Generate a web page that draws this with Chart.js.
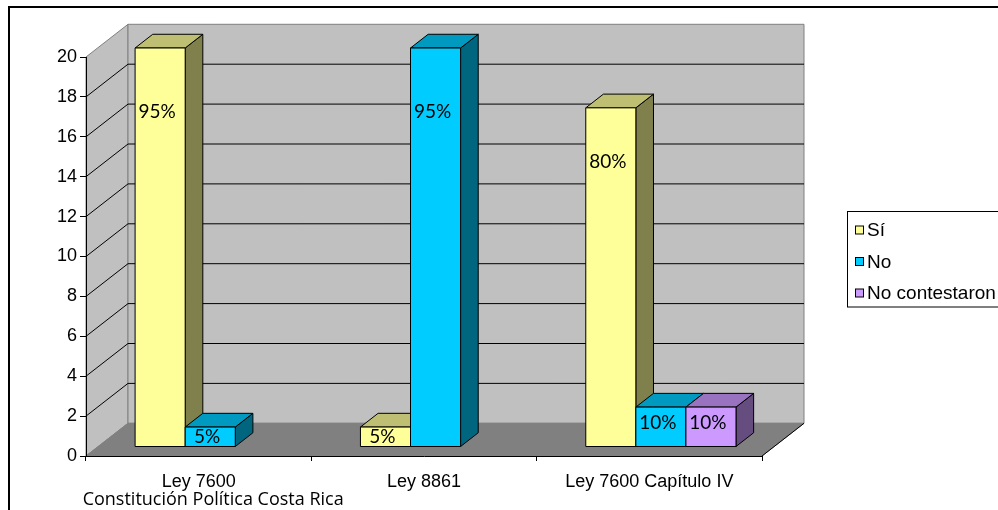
<!DOCTYPE html>
<html lang="es">
<head>
<meta charset="utf-8">
<title>Leyes - respuestas</title>
<script src="https://cdn.jsdelivr.net/npm/chart.js@4.4.1/dist/chart.umd.min.js"></script>
<style>
  html, body { margin: 0; padding: 0; background: #fff; overflow: hidden; }
  canvas { display: block; }
</style>
</head>
<body>
<canvas id="grafico" width="998" height="510"></canvas>
<script>
// Datos del gráfico
const categorias = ['Ley 7600', 'Ley 8861', 'Ley 7600 Capítulo IV'];
const subtituloPrimera = 'Constitución Política Costa Rica';
const series = ['Sí', 'No', 'No contestaron'];
const valoresSi = [20, 1, 17];
const valoresNo = [1, 20, 2];
const valoresNoContestaron = [null, null, 2];
const etiquetasSi = ['95%', '5%', '80%'];
const etiquetasNo = ['5%', '95%', '10%'];
const etiquetasNoContestaron = [null, null, '10%'];
const ejeYMin = 0, ejeYMax = 20, ejeYPaso = 2;

// Colores: frente, arriba, lado
const colores = [
    { frente: '#FFFF99', arriba: '#BFBF73', lado: '#80804D' },
    { frente: '#00CCFF', arriba: '#0099BF', lado: '#006680' },
    { frente: '#CC99FF', arriba: '#9973BF', lado: '#664D80' }
];
const etiquetas = [etiquetasSi, etiquetasNo, etiquetasNoContestaron];

// Profundidad 3D
const PROF_X = 42, PROF_Y = -32.7;
const T_FRENTE = 0.275, T_FONDO = 0.695;

function poligono(ctx, puntos, relleno, borde) {
    ctx.beginPath();
    puntos.forEach((p, i) => i ? ctx.lineTo(p[0], p[1]) : ctx.moveTo(p[0], p[1]));
    ctx.closePath();
    if (relleno) { ctx.fillStyle = relleno; ctx.fill(); }
    if (borde) { ctx.strokeStyle = borde; ctx.stroke(); }
}

// Paredes, piso y líneas de división
const fondo3d = {
    id: 'fondo3d',
    beforeDraw(chart) {
        const ctx = chart.ctx;
        const { left: L, right: R, top: T, bottom: B } = chart.chartArea;
        const y = chart.scales.y;
        ctx.save();
        ctx.fillStyle = '#fff';
        ctx.fillRect(0, 0, chart.width, chart.height);
        ctx.strokeStyle = '#000';
        ctx.lineWidth = 2;
        ctx.strokeRect(9, 7, chart.width + 20, chart.height + 20);

        ctx.lineWidth = 1;
        // pared lateral
        poligono(ctx, [[L, T], [L + PROF_X, T + PROF_Y], [L + PROF_X, B + PROF_Y], [L, B]], '#C0C0C0', '#808080');
        // pared del fondo
        poligono(ctx, [[L + PROF_X, T + PROF_Y], [R + PROF_X, T + PROF_Y], [R + PROF_X, B + PROF_Y], [L + PROF_X, B + PROF_Y]], '#C0C0C0', '#808080');
        // piso
        poligono(ctx, [[L, B], [R, B], [R + PROF_X, B + PROF_Y], [L + PROF_X, B + PROF_Y]], '#808080', '#808080');
        ctx.strokeStyle = '#000';
        ctx.beginPath();
        ctx.moveTo(R, B);
        ctx.lineTo(R + PROF_X, B + PROF_Y);
        ctx.stroke();

        // líneas de división
        ctx.strokeStyle = '#000';
        y.ticks.forEach(t => {
            if (t.value <= y.min || t.value >= y.max) return;
            const py = y.getPixelForValue(t.value);
            ctx.beginPath();
            ctx.moveTo(L, py);
            ctx.lineTo(L + PROF_X, py + PROF_Y);
            ctx.lineTo(R + PROF_X, py + PROF_Y);
            ctx.stroke();
        });
        ctx.restore();
    }
};

// Barras en 3D y etiquetas de datos
const barras3d = {
    id: 'barras3d',
    afterDatasetsDraw(chart) {
        const ctx = chart.ctx;
        const cajas = [];
        chart.data.datasets.forEach((ds, i) => {
            const meta = chart.getDatasetMeta(i);
            meta.data.forEach((el, j) => {
                if (ds.data[j] == null) return;
                const p = el.getProps(['x', 'y', 'base', 'width'], true);
                cajas.push({ x0: p.x - p.width / 2, x1: p.x + p.width / 2, top: p.y, base: p.base, serie: i, idx: j });
            });
        });
        cajas.sort((a, b) => a.x0 - b.x0);

        const fx = T_FRENTE * PROF_X, fy = T_FRENTE * PROF_Y;
        const bx = T_FONDO * PROF_X, by = T_FONDO * PROF_Y;
        ctx.save();
        ctx.lineWidth = 1;
        ctx.lineJoin = 'miter';
        cajas.forEach(c => {
            const col = colores[c.serie];
            // lado derecho
            poligono(ctx, [[c.x1 + fx, c.top + fy], [c.x1 + bx, c.top + by], [c.x1 + bx, c.base + by], [c.x1 + fx, c.base + fy]], col.lado, '#000');
            // cara superior
            poligono(ctx, [[c.x0 + fx, c.top + fy], [c.x1 + fx, c.top + fy], [c.x1 + bx, c.top + by], [c.x0 + bx, c.top + by]], col.arriba, '#000');
            // frente
            poligono(ctx, [[c.x0 + fx, c.top + fy], [c.x1 + fx, c.top + fy], [c.x1 + fx, c.base + fy], [c.x0 + fx, c.base + fy]], col.frente, '#000');
        });

        ctx.fillStyle = '#000';
        ctx.font = '19px Lato';
        ctx.textAlign = 'center';
        ctx.textBaseline = 'middle';
        cajas.forEach(c => {
            const txt = etiquetas[c.serie][c.idx];
            if (!txt) return;
            const h = c.base - c.top;
            const off = Math.min(Math.max(0.16 * h, 16), h / 2);
            ctx.fillText(txt, (c.x0 + c.x1) / 2 + fx - 3, c.top + fy + off);
        });
        ctx.restore();
    },
    afterDraw(chart) {
        const ctx = chart.ctx;
        const x = chart.scales.x;
        ctx.save();
        // segunda línea de la primera categoría
        ctx.fillStyle = '#000';
        ctx.font = '18px "Open Sans"';
        ctx.textAlign = 'center';
        ctx.textBaseline = 'alphabetic';
        ctx.fillText(subtituloPrimera, x.getPixelForValue(0) + 14.5, 504.5);

        // leyenda
        ctx.fillStyle = '#fff';
        ctx.fillRect(847.5, 211.5, 200, 95.5);
        ctx.strokeStyle = '#000';
        ctx.lineWidth = 1;
        ctx.strokeRect(847.5, 211.5, 200, 95.5);
        ctx.font = '19px "Liberation Sans"';
        ctx.textAlign = 'left';
        ctx.textBaseline = 'middle';
        series.forEach((s, i) => {
            const cy = 230 + i * 31.5;
            ctx.fillStyle = colores[i].frente;
            ctx.fillRect(855.5, cy - 4, 8, 8);
            ctx.strokeStyle = '#000';
            ctx.strokeRect(855.5, cy - 4, 8, 8);
            ctx.fillStyle = '#000';
            ctx.fillText(s, 867, cy + 1);
        });
        ctx.restore();
    }
};

const transparente = 'rgba(0,0,0,0)';
new Chart(document.getElementById('grafico'), {
    type: 'bar',
    data: {
        labels: categorias,
        datasets: [
            { label: series[0], data: valoresSi, backgroundColor: transparente, borderWidth: 0 },
            { label: series[1], data: valoresNo, backgroundColor: transparente, borderWidth: 0 },
            { label: series[2], data: valoresNoContestaron, backgroundColor: transparente, borderWidth: 0 }
        ]
    },
    options: {
        responsive: false,
        animation: false,
        devicePixelRatio: 1,
        layout: { padding: { left: 0, top: 57, right: 236, bottom: 0 } },
        datasets: { bar: { categoryPercentage: 3 / 4.5, barPercentage: 1 } },
        plugins: { legend: { display: false }, tooltip: { enabled: false } },
        scales: {
            x: {
                afterFit(scale) { scale.height = 54; },
                grid: { drawOnChartArea: false, drawTicks: true, tickLength: 5, color: '#000', offset: true },
                border: { display: true, color: '#000', width: 1 },
                ticks: { color: '#000', font: { family: 'Liberation Sans', size: 18 }, padding: 10, maxRotation: 0 }
            },
            y: {
                min: ejeYMin,
                max: ejeYMax,
                afterFit(scale) { scale.width = 86; },
                grid: { drawOnChartArea: false, drawTicks: true, tickLength: 6, color: '#000' },
                border: { display: true, color: '#000', width: 1 },
                ticks: { stepSize: ejeYPaso, color: '#000', font: { family: 'Liberation Sans', size: 18 }, padding: 3 }
            }
        }
    },
    plugins: [fondo3d, barras3d]
});
</script>
</body>
</html>
